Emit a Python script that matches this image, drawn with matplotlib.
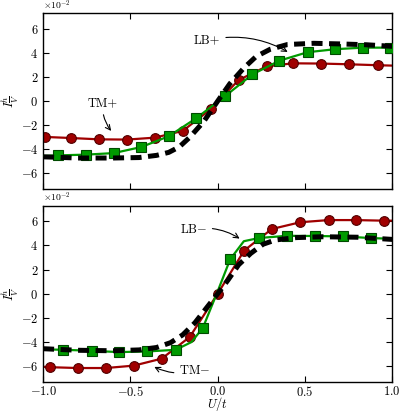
import matplotlib
matplotlib.use('Agg')
import matplotlib.pyplot as plt
import numpy as np

plt.rcParams['font.family'] = 'serif'
plt.rcParams['font.serif'] = ['cmr10']
plt.rcParams['mathtext.fontset'] = 'cm'
plt.rcParams['axes.formatter.use_mathtext'] = True

# values in units of 1e-2
# top panel
red_top_x = [-1.0, -0.99, -0.84, -0.68, -0.52, -0.36, -0.20, -0.04, 0.12, 0.28, 0.43, 0.59, 0.75, 0.92, 1.0]
red_top_y = [-2.97, -2.97, -3.06, -3.17, -3.19, -3.03, -2.47, -0.67, 1.75, 2.88, 3.14, 3.12, 3.06, 2.98, 2.95]
red_top_marks = list(range(1, 14))

green_top_x = [-1.0, -0.914, -0.754, -0.595, -0.438, -0.281, -0.123, 0.043, 0.199, 0.354, 0.515, 0.673, 0.832, 0.986, 1.0]
green_top_y = [-4.55, -4.5, -4.44, -4.31, -3.81, -2.92, -1.42, 0.42, 2.22, 3.36, 4.06, 4.31, 4.44, 4.44, 4.44]
green_top_marks = list(range(1, 14))

lb_top_x = [-1.0, -0.8, -0.6, -0.45, -0.35, -0.28, -0.22, -0.16, -0.08, 0.0, 0.07, 0.15, 0.22, 0.3, 0.4, 0.55, 0.7, 0.85, 1.0]
lb_top_y = [-4.62, -4.72, -4.72, -4.68, -4.5, -4.25, -3.8, -3.0, -1.7, 0.0, 1.45, 2.75, 3.7, 4.3, 4.7, 4.8, 4.75, 4.68, 4.55]

# bottom panel
red_bot_x = [-1.0, -0.96, -0.80, -0.64, -0.48, -0.32, -0.16, 0.0, 0.152, 0.31, 0.473, 0.635, 0.79, 0.954, 1.0]
red_bot_y = [-6.05, -6.08, -6.15, -6.15, -5.95, -5.37, -3.58, 0.0, 3.58, 5.36, 5.92, 6.1, 6.1, 6.05, 6.05]
red_bot_marks = list(range(1, 14))

green_bot_x = [-1.0, -0.884, -0.721, -0.568, -0.406, -0.24, -0.15, -0.085, 0.0, 0.072, 0.15, 0.234, 0.397, 0.559, 0.717, 0.878, 1.0]
green_bot_y = [-4.6, -4.64, -4.72, -4.83, -4.78, -4.64, -4.0, -2.83, 0.2, 2.86, 4.35, 4.61, 4.8, 4.78, 4.75, 4.61, 4.55]
green_bot_marks = [1, 2, 3, 4, 5, 7, 9, 11, 12, 13, 14, 15]

lb_bot_x = [-1.0, -0.8, -0.6, -0.45, -0.35, -0.27, -0.2, -0.13, -0.06, 0.0, 0.06, 0.12, 0.19, 0.26, 0.33, 0.45, 0.6, 0.8, 1.0]
lb_bot_y = [-4.55, -4.68, -4.72, -4.65, -4.45, -4.05, -3.4, -2.4, -1.1, 0.0, 1.15, 2.4, 3.35, 4.1, 4.45, 4.65, 4.72, 4.68, 4.5]

yticks = [-6, -4, -2, 0, 2, 4, 6]
xticks = [-1.0, -0.5, 0.0, 0.5, 1.0]

red = '#a00000'
red_edge = '#500000'
green = '#009a00'
green_edge = '#004a00'


def draw(ax, rx, ry, rm, gx, gy, gm, lx, ly):
    ax.plot(rx, np.array(ry) * 1e-2, color=red, lw=1.6, marker='o', ms=7,
            mfc=red, mec=red_edge, mew=0.8, markevery=rm, zorder=2)
    ax.plot(gx, np.array(gy) * 1e-2, color=green, lw=1.6, marker='s', ms=7,
            mfc=green, mec=green_edge, mew=0.8, markevery=gm, zorder=3)
    ax.plot(lx, np.array(ly) * 1e-2, color='black', lw=3.6, ls=(0, (2.2, 1.3)),
            zorder=4)
    ax.set_xlim(-1, 1)
    ax.set_ylim(-0.073, 0.073)
    ax.set_yticks(np.array(yticks) * 1e-2)
    ax.set_yticklabels([f'${v}$' for v in yticks])
    ax.set_xticks(xticks)
    ax.tick_params(direction='in', top=True, right=True, labelsize=9,
                   length=4, width=0.8)
    ax.tick_params(axis='x', pad=2)
    ax.text(0.0, 1.008, r'$\times10^{-2}$', transform=ax.transAxes,
            fontsize=7, ha='left', va='bottom')
    ax.set_ylabel(r'$I\frac{h}{V}$', fontsize=9, labelpad=0)
    for s in ax.spines.values():
        s.set_linewidth(1.0)


fig = plt.figure(figsize=(3.99, 4.12), dpi=100)
ax1 = fig.add_axes([0.108, 0.541, 0.875, 0.427])
ax2 = fig.add_axes([0.108, 0.073, 0.875, 0.428])

draw(ax1, red_top_x, red_top_y, red_top_marks, green_top_x, green_top_y,
     green_top_marks, lb_top_x, lb_top_y)
draw(ax2, red_bot_x, red_bot_y, red_bot_marks, green_bot_x, green_bot_y,
     green_bot_marks, lb_bot_x, lb_bot_y)
ax1.set_xticklabels([])
ax2.set_xticklabels([f'${v:.1f}$' for v in xticks])
ax2.set_xlabel(r'$U/t$', fontsize=9)
ax2.xaxis.label.set_va('center')
ax2.xaxis.set_label_coords(0.5, -0.125)

arrow = dict(arrowstyle='->', color='black', lw=0.8,
             connectionstyle='arc3,rad=-0.2')
ax1.annotate('LB+', xy=(0.415, 0.0397), xytext=(-0.06, 0.0505),
             fontsize=9, ha='center', va='center', arrowprops=arrow)
ax1.annotate('TM+', xy=(-0.6, -0.0265), xytext=(-0.66, -0.0017),
             fontsize=9, ha='center', va='center',
             arrowprops=dict(arrowstyle='->', color='black', lw=0.8,
                             connectionstyle='arc3,rad=0.2'))
ax2.annotate(r'LB$-$', xy=(0.139, 0.0444), xytext=(-0.14, 0.0536),
             fontsize=9, ha='center', va='center', arrowprops=arrow)
ax2.annotate(r'TM$-$', xy=(-0.377, -0.0595), xytext=(-0.13, -0.0639),
             fontsize=9, ha='center', va='center',
             arrowprops=dict(arrowstyle='->', color='black', lw=0.8,
                             connectionstyle='arc3,rad=-0.2'))

fig.savefig('out.png', dpi=100)
